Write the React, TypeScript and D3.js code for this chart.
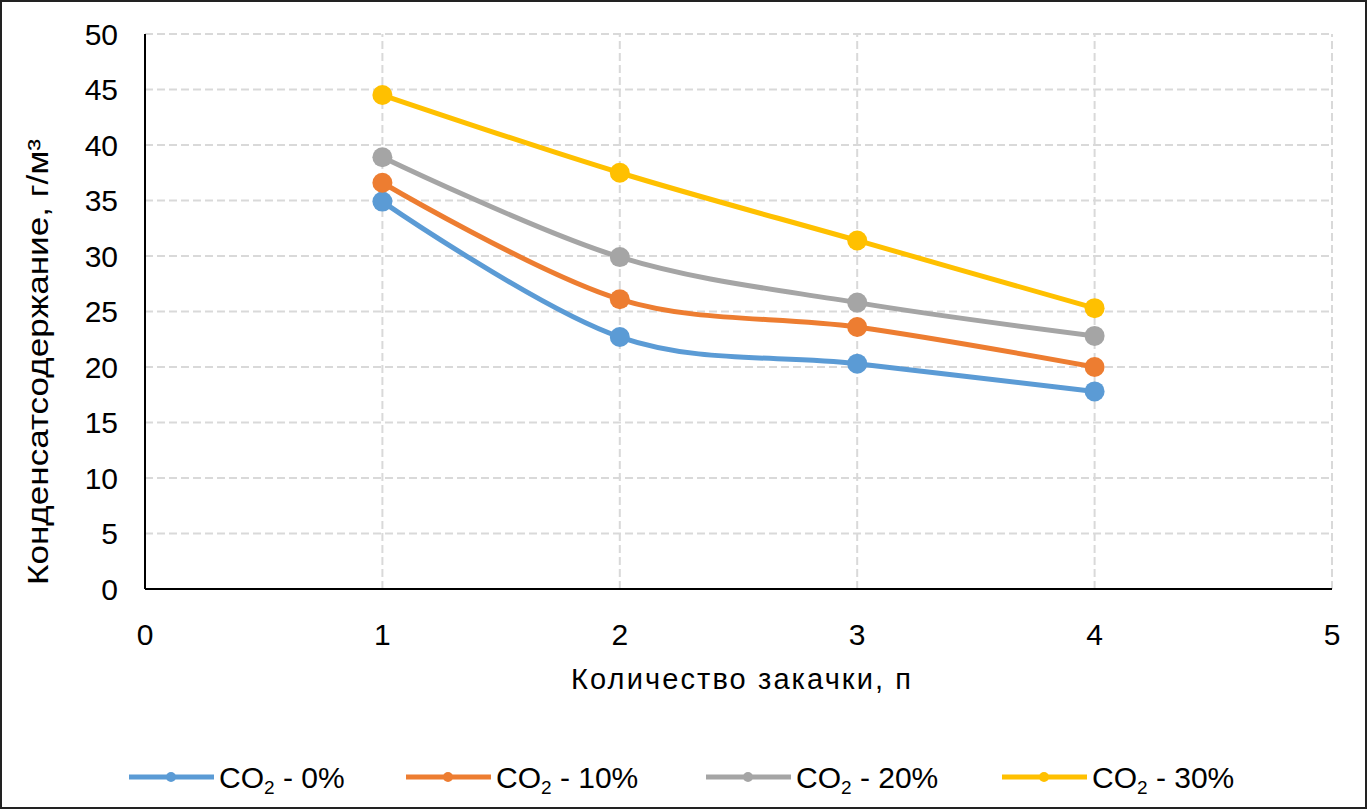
import React, { useEffect, useRef } from 'react';
import * as d3 from 'd3';

const W = 1368;
const H = 811;

const injections = [1, 2, 3, 4];
const seriesNames = ['0%', '10%', '20%', '30%'];
const colors = ['#5B9BD5', '#ED7D31', '#A5A5A5', '#FFC000'];
const co2_0 = [34.9, 22.7, 20.3, 17.8];
const co2_10 = [36.6, 26.1, 23.6, 20.0];
const co2_20 = [38.9, 29.9, 25.8, 22.8];
const co2_30 = [44.5, 37.5, 31.4, 25.3];
const xTicks = [0, 1, 2, 3, 4, 5];
const yTicks = [0, 5, 10, 15, 20, 25, 30, 35, 40, 45, 50];

const FONT = '"Liberation Sans", Arial, sans-serif';

const App = () => {
  const ref = useRef<SVGSVGElement>(null);

  useEffect(() => {
    const svg = d3.select(ref.current);
    svg.selectAll('*').remove();

    const x = d3.scaleLinear().domain([0, 5]).range([145, 1332]);
    const y = d3.scaleLinear().domain([0, 50]).range([589, 34]);

    // outer frame
    svg.append('rect')
      .attr('x', 1).attr('y', 1).attr('width', W - 3).attr('height', H - 4)
      .attr('fill', '#fff').attr('stroke', '#222').attr('stroke-width', 2);

    // grid
    const grid = svg.append('g').attr('stroke', '#D9D9D9').attr('stroke-width', 2).attr('stroke-dasharray', '8,4');
    yTicks.filter(v => v > 0).forEach(v => {
      grid.append('line').attr('x1', x(0)).attr('x2', x(5)).attr('y1', y(v)).attr('y2', y(v));
    });
    xTicks.filter(v => v > 0).forEach(v => {
      grid.append('line').attr('x1', x(v)).attr('x2', x(v)).attr('y1', y(0)).attr('y2', y(50));
    });

    // axes
    svg.append('line').attr('x1', x(0)).attr('x2', x(0)).attr('y1', y(0)).attr('y2', y(50))
      .attr('stroke', '#000').attr('stroke-width', 2);
    svg.append('line').attr('x1', x(0)).attr('x2', x(5)).attr('y1', y(0)).attr('y2', y(0))
      .attr('stroke', '#000').attr('stroke-width', 2);

    // tick labels
    svg.append('g').selectAll('text').data(yTicks).join('text')
      .attr('x', 118).attr('y', d => y(d)).attr('dy', '0.36em')
      .attr('text-anchor', 'end').attr('font-family', FONT).attr('font-size', 30)
      .attr('fill', '#000').text(d => d);
    svg.append('g').selectAll('text').data(xTicks).join('text')
      .attr('x', d => x(d)).attr('y', 645)
      .attr('text-anchor', 'middle').attr('font-family', FONT).attr('font-size', 30)
      .attr('fill', '#000').text(d => d);

    // axis titles
    svg.append('text').attr('x', 741).attr('y', 689).attr('text-anchor', 'middle')
      .attr('font-family', FONT).attr('font-size', 29).attr('fill', '#000')
      .attr('textLength', 340).attr('lengthAdjust', 'spacing')
      .text('Количество закачки, п');
    svg.append('text').attr('transform', 'translate(48,362) rotate(-90)').attr('text-anchor', 'middle')
      .attr('font-family', FONT).attr('font-size', 29).attr('fill', '#000')
      .attr('textLength', 446).attr('lengthAdjust', 'spacingAndGlyphs')
      .text('Конденсатсодержание, г/м³');

    // series
    const all = [co2_0, co2_10, co2_20, co2_30];
    const line = d3.line<number>()
      .x((d, i) => x(injections[i]))
      .y(d => y(d))
      .curve(d3.curveCardinal.tension(0));

    all.forEach((vals, k) => {
      svg.append('path').datum(vals)
        .attr('fill', 'none').attr('stroke', colors[k]).attr('stroke-width', 5)
        .attr('stroke-linecap', 'round').attr('d', line);
      svg.append('g').selectAll('circle').data(vals).join('circle')
        .attr('cx', (d, i) => x(injections[i])).attr('cy', d => y(d)).attr('r', 10)
        .attr('fill', colors[k]);
    });

    // legend
    const legX = [129, 406, 706, 1002];
    const legY = 777;
    seriesNames.forEach((name, k) => {
      const g = svg.append('g').attr('transform', `translate(${legX[k]},${legY})`);
      g.append('line').attr('x1', 0).attr('x2', 85).attr('y1', 0).attr('y2', 0)
        .attr('stroke', colors[k]).attr('stroke-width', 5);
      g.append('circle').attr('cx', 42).attr('cy', 0).attr('r', 5).attr('fill', colors[k]);
      const t = g.append('text').attr('x', 90).attr('y', 11)
        .attr('font-family', FONT).attr('font-size', 30).attr('fill', '#000');
      t.append('tspan').text('CO');
      t.append('tspan').attr('font-size', 19).attr('dy', 6).text('2');
      t.append('tspan').attr('dy', -6).text(` - ${name}`);
    });
  }, []);

  return (
    <svg ref={ref} width={W} height={H}
      style={{ position: 'absolute', left: 0, top: 0, background: '#fff' }} />
  );
};

export default App;
